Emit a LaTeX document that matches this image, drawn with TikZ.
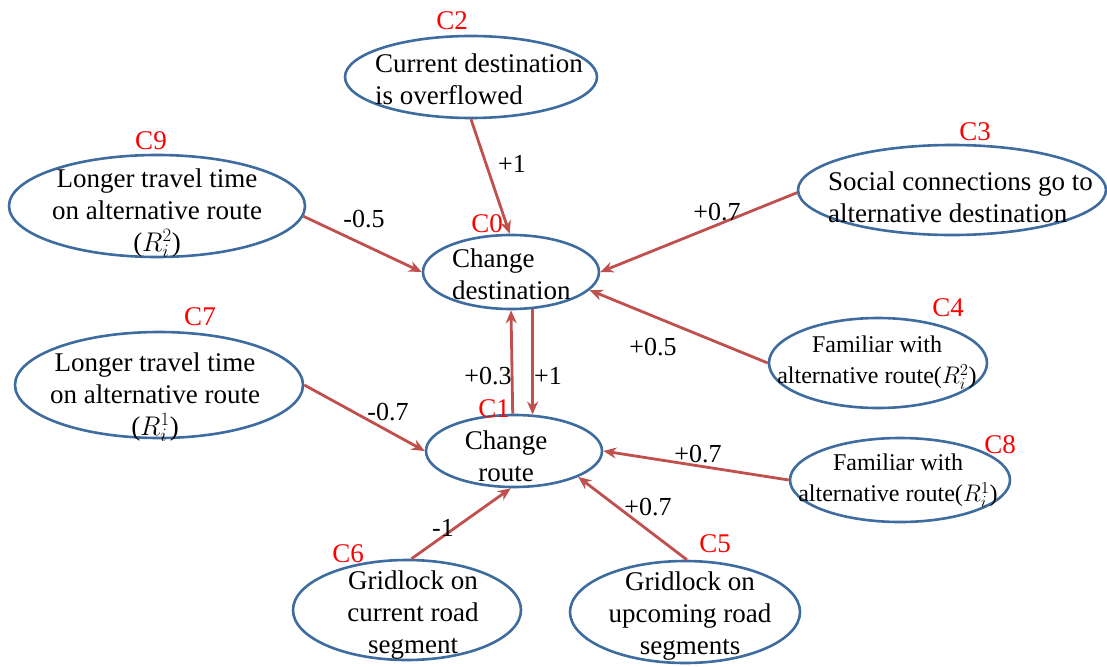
\documentclass[tikz,border=0pt]{standalone}
\usepackage{fix-cm}
\usepackage{fontspec}
\setmainfont{Liberation Serif}
\usetikzlibrary{shapes.geometric,arrows.meta}
\definecolor{ringblue}{HTML}{3F6C9E}
\definecolor{linkred}{HTML}{C0504D}
\begin{document}
\begin{tikzpicture}[x=1pt,y=-1pt,
  concept/.style={ellipse,draw=ringblue,line width=2.6pt,inner sep=0pt},
  body/.style={font=\fontsize{27}{32}\selectfont,inner sep=0pt,align=center},
  smallbody/.style={font=\fontsize{24}{31}\selectfont,inner sep=0pt,align=center},
  tag/.style={text=red,font=\fontsize{27}{32}\selectfont,inner sep=0pt},
  weight/.style={font=\fontsize{26}{30}\selectfont,inner sep=0pt},
  link/.style={draw=linkred,line width=2.8pt,-{Stealth[length=13pt,width=11pt]}}]
\useasboundingbox (0,0) rectangle (1107,666);

% concept outlines
\node[concept,minimum width=176pt,minimum height=74pt] (c0) at (511,272) {};
\node[concept,minimum width=176pt,minimum height=72pt] (c1) at (514,451) {};
\node[concept,minimum width=252pt,minimum height=82pt] (c2) at (471,77) {};
\node[concept,minimum width=308pt,minimum height=90pt] (c3) at (952,190) {};
\node[concept,minimum width=218pt,minimum height=90pt] (c4) at (878,363) {};
\node[concept,minimum width=230pt,minimum height=102pt] (c5) at (685,612) {};
\node[concept,minimum width=228pt,minimum height=100pt] (c6) at (407,610) {};
\node[concept,minimum width=288pt,minimum height=106pt] (c7) at (159,385) {};
\node[concept,minimum width=220pt,minimum height=84pt] (c8) at (900,480) {};
\node[concept,minimum width=296pt,minimum height=102pt] (c9) at (157,206) {};

% concept texts
\node[body,align=left,anchor=west] (t0) at (452,274) {Change\\destination};
\node[body] (t1) at (506,456) {Change\\route};
\node[body,align=left] (t2) at (479,79) {Current destination\\is overflowed};
\node[body,align=left,anchor=west] (t3) at (828,197) {Social connections go to\\alternative destination};
\node[smallbody] (t4) at (877,363) {Familiar with\\alternative route($R_i^2$)};
\node[body] (t5) at (690,616) {Gridlock on\\upcoming road\\segments};
\node[body] (t6) at (413,615) {Gridlock on\\current road\\segment};
\node[body] (t7) at (155,397) {Longer travel time\\on alternative route\\($R_i^1$)};
\node[smallbody] (t8) at (898,481) {Familiar with\\alternative route($R_i^1$)};
\node[body] (t9) at (157,213) {Longer travel time\\on alternative route\\($R_i^2$)};

% concept tags
\node[tag] (k0) at (487,224) {C0};
\node[tag] (k1) at (494,409) {C1};
\node[tag] (k2) at (452,21) {C2};
\node[tag] (k3) at (975,132) {C3};
\node[tag] (k4) at (948,308) {C4};
\node[tag] (k5) at (715,544) {C5};
\node[tag] (k6) at (348,554) {C6};
\node[tag] (k7) at (200,317) {C7};
\node[tag] (k8) at (1000,445) {C8};
\node[tag] (k9) at (151,141) {C9};

% causal links
\draw[link] (c2.-90) -- (c0.92);
\draw[link] (c9.-4) -- (c0.180);
\draw[link] (c3.181) -- (c0.0);
\draw[link] (c4.180) -- (c0.-13);
\draw[link] (c1.92) -- (c0.-90);
\draw[link] (c0.-60) -- (c1.63);
\draw[link] (c7.0) -- (c1.180);
\draw[link] (c8.180) -- (c1.0);
\draw[link] (c5.88) -- (c1.-22);
\draw[link] (c6.85) -- (c1.-95);

% link weights
\node[weight] (w20) at (512,164) {+1};
\node[weight] (w90) at (364,219) {-0.5};
\node[weight] (w30) at (717,212) {+0.7};
\node[weight] (w40) at (653,347) {+0.5};
\node[weight] (w10) at (488,376) {+0.3};
\node[weight] (w01) at (548,376) {+1};
\node[weight] (w71) at (388,412) {-0.7};
\node[weight] (w81) at (698,454) {+0.7};
\node[weight] (w51) at (648,507) {+0.7};
\node[weight] (w61) at (443,528) {-1};
\end{tikzpicture}
\end{document}
